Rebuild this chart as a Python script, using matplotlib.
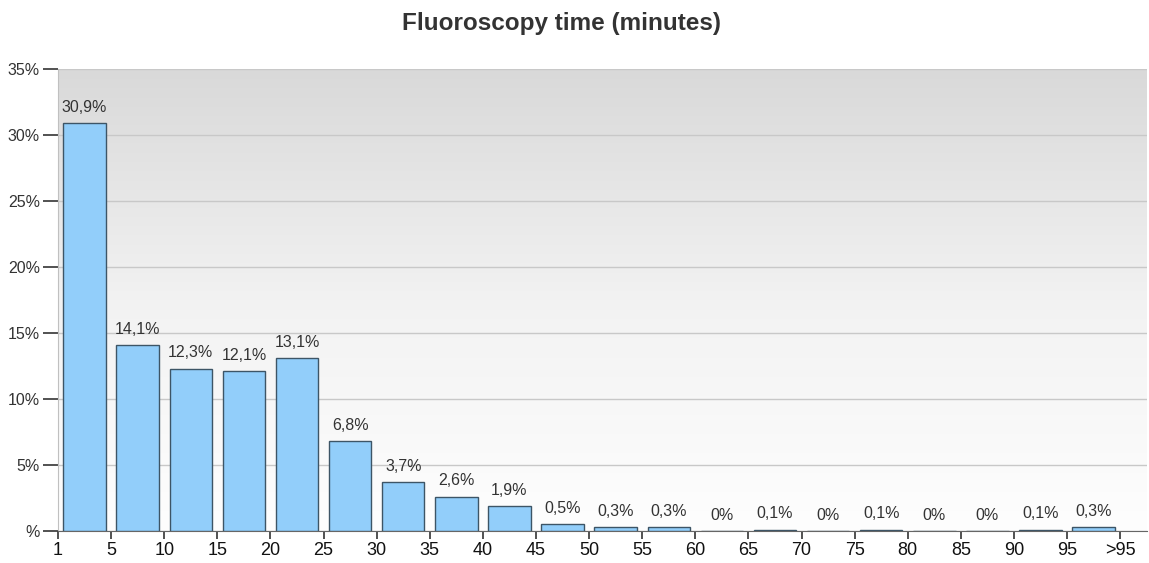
import numpy as np
import matplotlib.pyplot as plt
from matplotlib.colors import LinearSegmentedColormap

# bins of fluoroscopy time (minutes), share of procedures in %
tick_labels = ["1", "5", "10", "15", "20", "25", "30", "35", "40", "45", "50",
               "55", "60", "65", "70", "75", "80", "85", "90", "95", ">95"]
shares = [30.9, 14.1, 12.3, 12.1, 13.1, 6.8, 3.7, 2.6, 1.9, 0.5, 0.3, 0.3,
          0.0, 0.1, 0.0, 0.1, 0.0, 0.0, 0.1, 0.3]
y_ticks = [0, 5, 10, 15, 20, 25, 30, 35]

plt.rcParams["font.family"] = ["Liberation Sans", "DejaVu Sans"]

fig = plt.figure(figsize=(11.49, 5.63), dpi=100)
ax = fig.add_axes([0.0505, 0.0568, 0.9475, 0.8206])

# gradient background (grey at top, white at bottom)
cmap = LinearSegmentedColormap.from_list("bg", ["#fefefe", "#f2f2f2", "#d9d9d9"])
grad = np.linspace(0, 1, 256).reshape(-1, 1)
ax.imshow(grad, cmap=cmap, aspect="auto", origin="lower",
          extent=[0, 1, 0, 1], transform=ax.transAxes, zorder=0)

x = np.arange(len(shares)) + 0.5
bars = ax.bar(x, shares, width=0.8, color="#92cefa", edgecolor="#3d5566",
              linewidth=1.0, zorder=3)

for xi, v in zip(x, shares):
    txt = "0%" if v == 0 else f"{v:.1f}%".replace(".", ",")
    ax.annotate(txt, (xi, v), xytext=(0, 6), textcoords="offset points",
                ha="center", va="bottom", fontsize=11.5, color="#333333",
                zorder=4)

ax.set_xlim(0, 20.5)
ax.set_ylim(0, 35)
ax.set_xticks(np.arange(len(tick_labels)))
ax.set_xticklabels(tick_labels)
ax.set_yticks(y_ticks)
ax.set_yticklabels([f"{t}%" if t else "%" for t in y_ticks])

ax.grid(axis="y", color="#c8c8c8", linewidth=1.0, zorder=1)
ax.set_axisbelow(True)
for s in ["top", "right"]:
    ax.spines[s].set_visible(False)
ax.spines["left"].set_color("#c0c0c0")
ax.spines["bottom"].set_color("#666666")
ax.tick_params(axis="y", length=11, width=1.2, color="#333333",
               labelsize=11.5, labelcolor="#333333", pad=2)
ax.tick_params(axis="x", length=6, width=1.2, color="#333333",
               labelsize=13, labelcolor="#111111", pad=2)

fig.suptitle("Fluoroscopy time (minutes)", x=0.489, y=0.978, fontsize=17.5,
             fontweight="bold", color="#333333")

fig.savefig("out.png", dpi=100, facecolor="white")
